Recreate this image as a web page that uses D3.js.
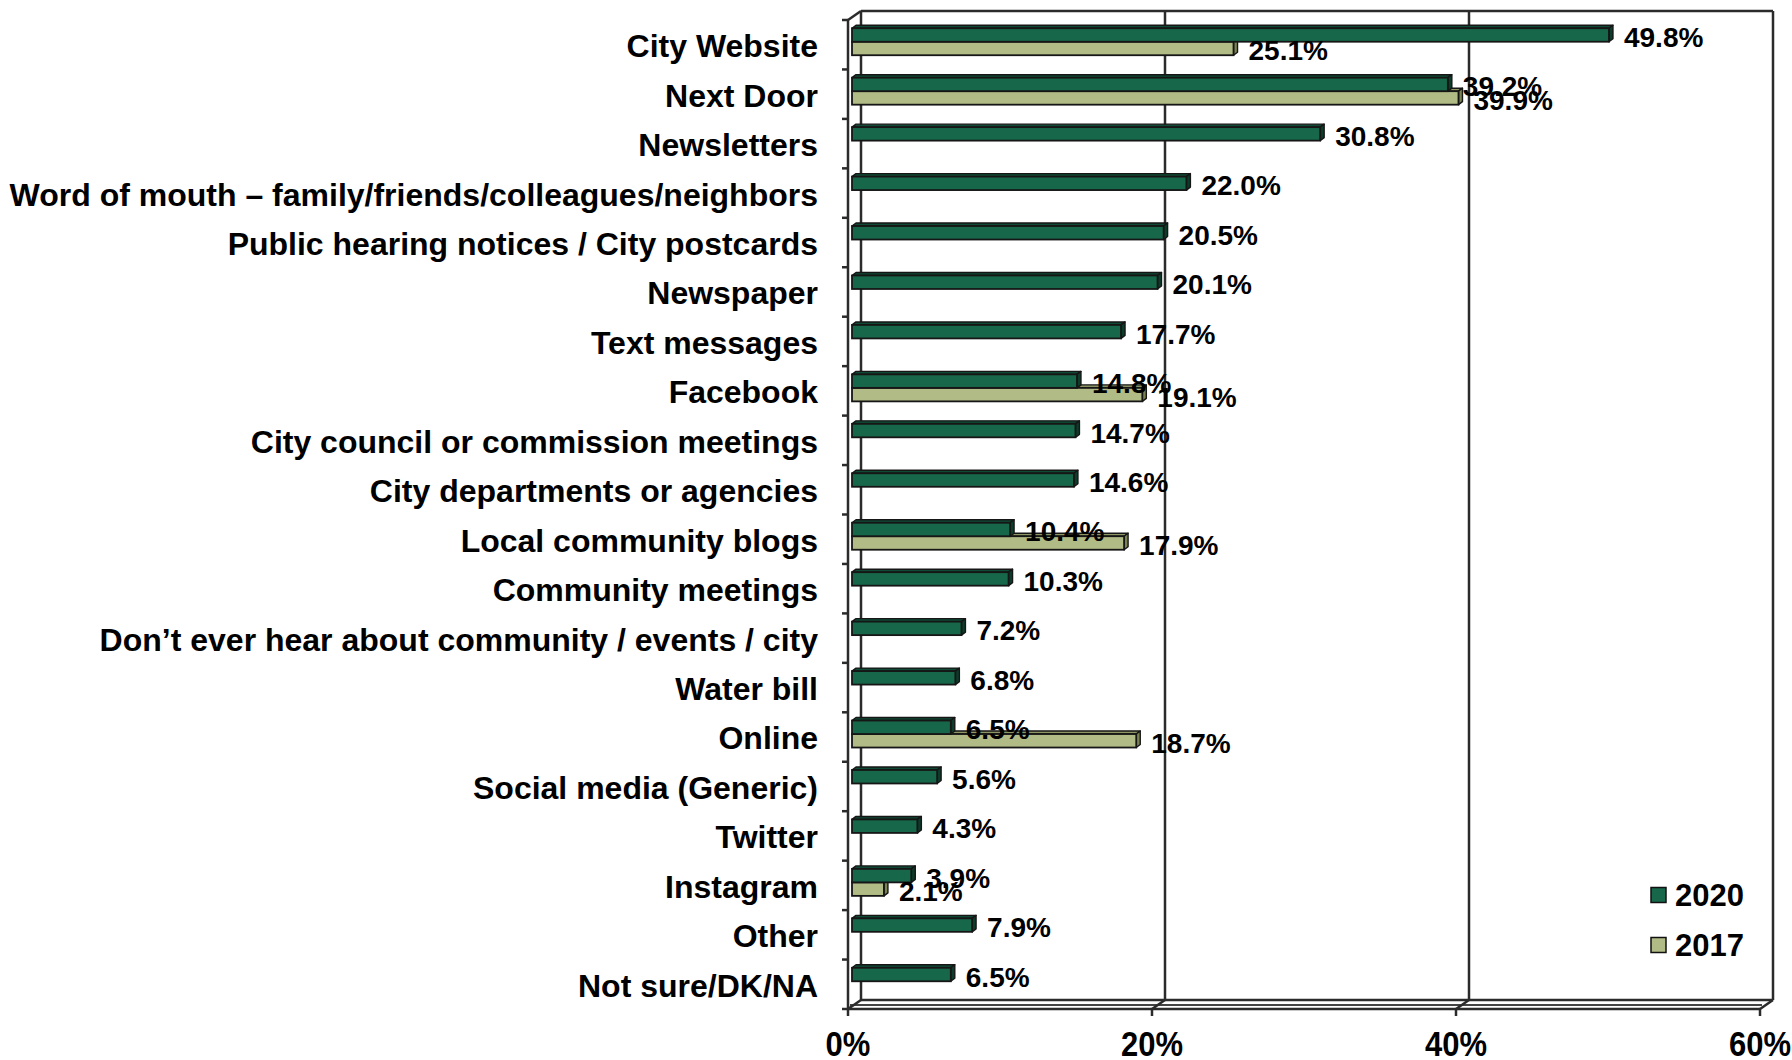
<!DOCTYPE html>
<html>
<head>
<meta charset="utf-8">
<script src="https://cdn.jsdelivr.net/npm/d3@7"></script>
<style>
  html, body { margin: 0; padding: 0; background: #fff; }
  svg { display: block; }
  text { font-family: "Liberation Sans", Arial, Helvetica, sans-serif; font-weight: bold; fill: #000; }
</style>
</head>
<body>
<svg id="chart" width="1792" height="1060"></svg>
<script>
// Information sources, share of respondents (%)
const categories = [
  "City Website",
  "Next Door",
  "Newsletters",
  "Word of mouth – family/friends/colleagues/neighbors",
  "Public hearing notices / City postcards",
  "Newspaper",
  "Text messages",
  "Facebook",
  "City council or commission meetings",
  "City departments or agencies",
  "Local community blogs",
  "Community meetings",
  "Don’t ever hear about community / events / city",
  "Water bill",
  "Online",
  "Social media (Generic)",
  "Twitter",
  "Instagram",
  "Other",
  "Not sure/DK/NA"
];
const values2020 = [49.8, 39.2, 30.8, 22.0, 20.5, 20.1, 17.7, 14.8, 14.7, 14.6, 10.4, 10.3, 7.2, 6.8, 6.5, 5.6, 4.3, 3.9, 7.9, 6.5];
const values2017 = [25.1, 39.9, null, null, null, null, null, 19.1, null, null, 17.9, null, null, null, 18.7, null, null, 2.1, null, null];
const seriesNames = ["2020", "2017"];
const xTicks = [0, 20, 40, 60];
const xTickLabels = ["0%", "20%", "40%", "60%"];

const colors = {
  "2020": { front: "#17684b", top: "#0f4a35", side: "#0c3d2b" },
  "2017": { front: "#b1bb85", top: "#8e9764", side: "#7b8352" }
};

const svg = d3.select("#chart");

// Front plane of the 3-D box and its depth offset
const plot = { left: 848, right: 1760, top: 20, bottom: 1009 };
const depth = { dx: 13, dy: -9 };
const barDepth = { dx: 4, dy: -3 };

const x = d3.scaleLinear().domain([0, 60]).range([plot.left, plot.right]);
const y = d3.scaleBand().domain(categories).range([plot.top, plot.bottom]).padding(0);

const frameColor = "#2b2b2b";
const frame = svg.append("g").attr("fill", "none").attr("stroke", frameColor).attr("stroke-width", 2.5);

// Back wall with gridlines
xTicks.forEach(t => {
  frame.append("line")
    .attr("x1", x(t) + depth.dx).attr("x2", x(t) + depth.dx)
    .attr("y1", plot.top + depth.dy).attr("y2", plot.bottom + depth.dy);
});
frame.append("line")
  .attr("x1", x(0) + depth.dx).attr("x2", x(60) + depth.dx)
  .attr("y1", plot.top + depth.dy).attr("y2", plot.top + depth.dy);

// Left wall front edge and top corner
frame.append("line")
  .attr("x1", plot.left).attr("x2", plot.left)
  .attr("y1", plot.top).attr("y2", plot.bottom);
frame.append("line")
  .attr("x1", plot.left).attr("x2", plot.left + depth.dx)
  .attr("y1", plot.top).attr("y2", plot.top + depth.dy);

// Floor
frame.append("line")
  .attr("x1", x(0) + depth.dx).attr("x2", x(60) + depth.dx)
  .attr("y1", plot.bottom + depth.dy).attr("y2", plot.bottom + depth.dy);
frame.append("line")
  .attr("x1", x(0)).attr("x2", x(60))
  .attr("y1", plot.bottom).attr("y2", plot.bottom);
frame.append("line")
  .attr("x1", x(0) + 2).attr("x2", x(60) + 2)
  .attr("y1", plot.bottom - 4).attr("y2", plot.bottom - 4)
  .attr("stroke-width", 1.8).attr("stroke", "#444");
xTicks.forEach(t => {
  frame.append("line")
    .attr("x1", x(t)).attr("x2", x(t) + depth.dx)
    .attr("y1", plot.bottom).attr("y2", plot.bottom + depth.dy);
});

// Category ticks on the left edge
const catBounds = categories.map(c => y(c)).concat([plot.bottom]);
frame.selectAll(".ctick").data(catBounds).enter().append("line")
  .attr("x1", plot.left - 6).attr("x2", plot.left)
  .attr("y1", d => d).attr("y2", d => d);

// Value ticks below the floor
frame.selectAll(".vtick").data(xTicks).enter().append("line")
  .attr("x1", d => x(d)).attr("x2", d => x(d))
  .attr("y1", plot.bottom).attr("y2", plot.bottom + 7);

// Bars
const rows = categories.map((c, i) => ({ cat: c, v2020: values2020[i], v2017: values2017[i] }));
const inner = d3.scaleBand().domain(seriesNames).range([-16.5, 10.5]).padding(0);
const bars = svg.append("g");

function drawBar(g, v, yTop, h, col) {
  const x0 = x(0) + barDepth.dx;
  const x1 = x(v) + barDepth.dx;
  const yBot = yTop + h;
  const stroke = "#161616";
  g.append("polygon")
    .attr("points", [[x0, yTop], [x0 + barDepth.dx, yTop + barDepth.dy], [x1 + barDepth.dx, yTop + barDepth.dy], [x1, yTop]].join(" "))
    .attr("fill", col.top).attr("stroke", stroke).attr("stroke-width", 1.4).attr("stroke-linejoin", "round");
  g.append("polygon")
    .attr("points", [[x1, yTop], [x1 + barDepth.dx, yTop + barDepth.dy], [x1 + barDepth.dx, yBot + barDepth.dy], [x1, yBot]].join(" "))
    .attr("fill", col.side).attr("stroke", stroke).attr("stroke-width", 1.4).attr("stroke-linejoin", "round");
  g.append("rect")
    .attr("x", x0).attr("y", yTop)
    .attr("width", x1 - x0).attr("height", h)
    .attr("fill", col.front).attr("stroke", stroke).attr("stroke-width", 1.8);
}

rows.forEach(r => {
  const bc = y(r.cat) + y.bandwidth() / 2;
  const g = bars.append("g");
  // 2017 first so that the 2020 bar above covers its top face
  if (r.v2017 != null) drawBar(g, r.v2017, bc + inner("2017"), inner.bandwidth(), colors["2017"]);
  drawBar(g, r.v2020, bc + inner("2020"), inner.bandwidth(), colors["2020"]);
});

// Value labels
const valueSize = 28;
const labels = svg.append("g").attr("font-size", valueSize);
rows.forEach(r => {
  const bc = y(r.cat) + y.bandwidth() / 2;
  const items = [["2020", r.v2020]];
  if (r.v2017 != null) items.push(["2017", r.v2017]);
  items.forEach(([s, v]) => {
    const cy = bc + inner(s) + inner.bandwidth() / 2 + 2;
    labels.append("text")
      .attr("x", x(v) + barDepth.dx + 15)
      .attr("y", cy + 0.358 * valueSize)
      .text(v.toFixed(1) + "%");
  });
});

// Category labels
const catSize = 32;
svg.append("g").attr("font-size", catSize).attr("text-anchor", "end")
  .selectAll("text").data(categories).enter().append("text")
  .attr("x", 818)
  .attr("y", d => y(d) + y.bandwidth() / 2 + 1 + 0.358 * catSize)
  .text(d => d);

// Value axis labels
svg.append("g").attr("font-size", 31).attr("text-anchor", "middle")
  .selectAll("text").data(xTicks).enter().append("text")
  .attr("transform", d => `translate(${x(d)},1056) scale(1,1.12)`)
  .text((d, i) => xTickLabels[i]);

// Legend
const legendSize = 31;
const legend = svg.append("g").attr("font-size", legendSize);
seriesNames.forEach((s, i) => {
  const cy = 895 + i * 50;
  legend.append("rect")
    .attr("x", 1651).attr("y", cy - 7.5).attr("width", 15).attr("height", 15)
    .attr("fill", colors[s].front).attr("stroke", "#111").attr("stroke-width", 1.5);
  legend.append("text")
    .attr("x", 1675).attr("y", cy + 0.358 * legendSize)
    .text(s);
});
</script>
</body>
</html>
